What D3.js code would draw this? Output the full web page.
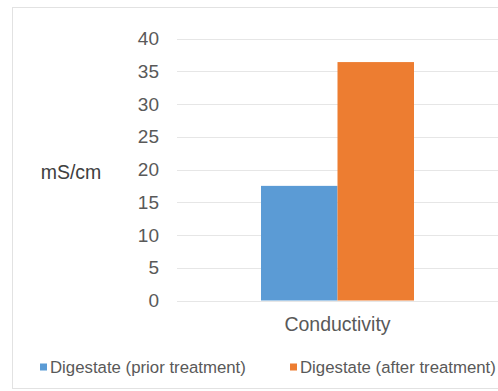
<!DOCTYPE html>
<html><head><meta charset="utf-8">
<script src="https://cdn.jsdelivr.net/npm/d3@7"></script>
<style>
html,body{margin:0;padding:0;background:#fff;}
svg{display:block;font-family:"Liberation Sans",Arial,sans-serif;}
</style></head>
<body>
<svg id="chart" width="498" height="391"></svg>
<script>
const categories = ["Conductivity"];
const seriesNames = ["Digestate (prior treatment)", "Digestate (after treatment)"];
const seriesColors = ["#5B9BD5", "#ED7D31"];
const priorValues = [17.5];
const afterValues = [36.4];
const yTicks = [0, 5, 10, 15, 20, 25, 30, 35, 40];
const yLabel = "mS/cm";

const svg = d3.select("#chart");

// chart border
svg.append("rect").attr("x", 12.5).attr("y", 7.5).attr("width", 500).attr("height", 381)
  .attr("fill", "#fff").attr("stroke", "#e2e2e2").attr("stroke-width", 1);

const plot = {left: 177, right: 498, top: 38.5, bottom: 300.5};

const x0 = d3.scaleBand().domain(categories).range([plot.left, plot.right]).paddingInner(0).paddingOuter(0);
const y = d3.scaleLinear().domain([0, 40]).range([plot.bottom, plot.top]);

// gridlines
svg.append("g").selectAll("line").data(yTicks).join("line")
  .attr("x1", plot.left).attr("x2", plot.right)
  .attr("y1", d => Math.round(y(d)) + 0.5).attr("y2", d => Math.round(y(d)) + 0.5)
  .attr("stroke", "#e6e6e6").attr("stroke-width", 1);

// y axis tick labels
const yAxis = d3.axisLeft(y).tickValues(yTicks).tickSize(0).tickPadding(0);
const gy = svg.append("g").attr("transform", `translate(159,0)`).call(yAxis);
gy.select(".domain").remove();
gy.selectAll("text").attr("fill", "#595959").style("font-size", "19px")
  .style("font-family", "'Liberation Sans',Arial,sans-serif");

// y label
svg.append("text").attr("x", 71).attr("y", 172).attr("text-anchor", "middle")
  .attr("dominant-baseline", "central").attr("fill", "#404040").style("font-size", "19.5px").text(yLabel);

// bars
const barWidth = 76.5;
const x1 = d3.scaleBand().domain(seriesNames).range([0, barWidth * 2]);
const data = categories.map((c, i) => ({cat: c, vals: [priorValues[i], afterValues[i]]}));
const groups = svg.append("g").selectAll("g").data(data).join("g")
  .attr("transform", d => `translate(${x0(d.cat) + x0.bandwidth() / 2 - barWidth},0)`);
groups.selectAll("rect").data(d => d.vals.map((v, j) => ({v, name: seriesNames[j], j})))
  .join("rect")
  .attr("x", d => x1(d.name)).attr("width", x1.bandwidth())
  .attr("y", d => y(d.v)).attr("height", d => y(0) - y(d.v))
  .attr("fill", d => seriesColors[d.j]);

// x axis labels
const xAxis = d3.axisBottom(x0).tickSize(0).tickPadding(0);
const gx = svg.append("g").attr("transform", `translate(0,${plot.bottom})`).call(xAxis);
gx.select(".domain").remove();
gx.selectAll("text").attr("fill", "#595959").style("font-size", "19.5px")
  .style("font-family", "'Liberation Sans',Arial,sans-serif")
  .attr("dy", null).attr("y", 30.5);

// legend
const legendItems = [{x: 40, text: seriesNames[0], color: seriesColors[0]},
                     {x: 290, text: seriesNames[1], color: seriesColors[1]}];
const lg = svg.append("g").selectAll("g").data(legendItems).join("g")
  .attr("transform", d => `translate(${d.x},367)`);
lg.append("rect").attr("x", 0).attr("y", -3.5).attr("width", 7).attr("height", 7).attr("fill", d => d.color);
lg.append("text").attr("x", 10).attr("y", 6).attr("fill", "#595959").style("font-size", "16.8px").text(d => d.text);
</script>
</body></html>
